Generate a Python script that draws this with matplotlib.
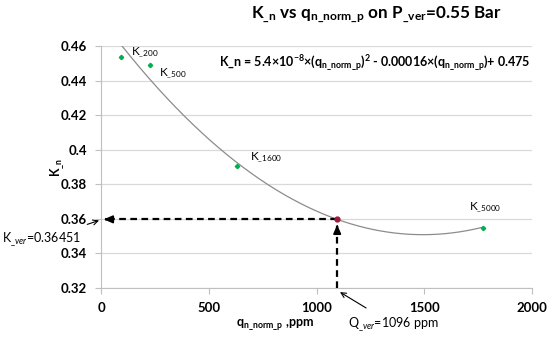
import numpy as np
import matplotlib
matplotlib.use('Agg')
import matplotlib.pyplot as plt

# data
q_points = [93, 227, 631, 1773]
k_points = [0.4536, 0.449, 0.3903, 0.3545]
point_names = ['200', '500', '1600', '5000']
trend_coef = [5.6e-8, -1.673e-4, 0.4758]   # curve as drawn
q_ver = 1096
x_ticks = [0, 500, 1000, 1500, 2000]
y_ticks = [0.32, 0.34, 0.36, 0.38, 0.40, 0.42, 0.44, 0.46]
y_tick_labels = ['0.32', '0.34', '0.36', '0.38', '0.4', '0.42', '0.44', '0.46']

plt.rcParams['font.family'] = ['Lato', 'DejaVu Sans']
plt.rcParams['mathtext.fontset'] = 'custom'
plt.rcParams['mathtext.rm'] = 'Lato'
plt.rcParams['mathtext.it'] = 'Lato:italic'
plt.rcParams['mathtext.bf'] = 'Lato:bold'

fig = plt.figure(figsize=(5.5, 3.37), dpi=100)
ax = fig.add_axes([101/550, 1-288/337, 431/550, 242/337])

# trend curve
qq = np.linspace(q_points[0], q_points[-1], 300)
ax.plot(qq, np.polyval(trend_coef, qq), color='#8c8c8c', lw=0.9, zorder=2)

# measured points
ax.plot(q_points, k_points, 'D', color='#00b050', ms=2.2, zorder=4)
offsets = [(10, 5), (9, -8), (13, 9), (2, 21)]
for q, k, name, off in zip(q_points, k_points, point_names, offsets):
    ax.annotate('K$_{\\_%s}$' % name, (q, k), xytext=off, textcoords='offset pixels',
                ha='center' if name == '5000' else 'left', va='center', fontsize=8.5)

# verification point and dashed guides
k_ver = np.polyval(trend_coef, q_ver)
ax.plot([q_ver], [k_ver], 'o', color='#9e1a3c', ms=3.5, zorder=5)
ax.plot([q_ver, 25], [k_ver, k_ver], color='black', lw=1.6, ls=(0, (3, 2)), zorder=3)
ax.plot([q_ver, q_ver], [0.32, k_ver - 0.004], color='black', lw=1.6, ls=(0, (3, 2)), zorder=3)
ax.annotate('', xy=(0, k_ver), xytext=(40, k_ver),
            arrowprops=dict(arrowstyle='-|>,head_length=0.5,head_width=0.22', color='black', lw=1.4))
ax.annotate('', xy=(q_ver, k_ver - 0.0015), xytext=(q_ver, k_ver - 0.006),
            arrowprops=dict(arrowstyle='-|>,head_length=0.5,head_width=0.22', color='black', lw=1.4))

# callouts
ax.annotate('K$_{\\_ver}$=0.36451', xy=(-9, 0.3591), xytext=(-278, 0.3478),
            ha='center', va='center', fontsize=9, annotation_clip=False,
            arrowprops=dict(arrowstyle='->', color='black', lw=0.8, shrinkA=8, shrinkB=0))
ax.annotate('Q$_{\\_ver}$=1096 ppm', xy=(1109, 0.3176), xytext=(1355, 0.2990),
            ha='center', va='center', fontsize=9, annotation_clip=False,
            arrowprops=dict(arrowstyle='->', color='black', lw=0.8, shrinkA=6, shrinkB=0))

ax.text(531/550, 1-63/337,
        r'K_n = 5.4×10$^{\mathbf{-8}}$×(q$_{\mathbf{n\_norm\_p}}$)$^{\mathbf{2}}$ - 0.00016×(q$_{\mathbf{n\_norm\_p}}$)+ 0.475',
        transform=fig.transFigure, ha='right', va='center', fontsize=9, fontweight='bold')

ax.set_xlim(0, 2000)
ax.set_ylim(0.32, 0.46)
ax.set_xticks(x_ticks)
ax.set_xticklabels([str(t) for t in x_ticks], fontweight='bold')
ax.set_yticks(y_ticks)
ax.set_yticklabels(y_tick_labels, fontweight='bold')
ax.tick_params(axis='both', labelsize=9.5, color='#bfbfbf', length=4)
ax.tick_params(axis='y', pad=6)
ax.tick_params(axis='x', pad=6)
ax.grid(axis='y', color='#d9d9d9', lw=0.9)
ax.set_axisbelow(True)
for s in ['top', 'right']:
    ax.spines[s].set_visible(False)
for s in ['left', 'bottom']:
    ax.spines[s].set_color('#bfbfbf')

ax.set_ylabel(r'K$_{\mathbf{\_n}}$', fontsize=9, fontweight='bold', labelpad=-4)
fig.text(0.5, 1-324/337, r'q$_{\mathbf{n\_norm\_p}}$ ,ppm', ha='center', va='center',
         fontsize=9, fontweight='bold')
fig.text(376/550, 1-15/337, r'K$_{\mathbf{\_n}}$ vs q$_{\mathbf{n\_norm\_p}}$ on P$_{\mathbf{\_ver}}$=0.55 Bar',
         ha='center', va='center', fontsize=12.3, fontweight='bold')

fig.savefig('out.png', dpi=100)
